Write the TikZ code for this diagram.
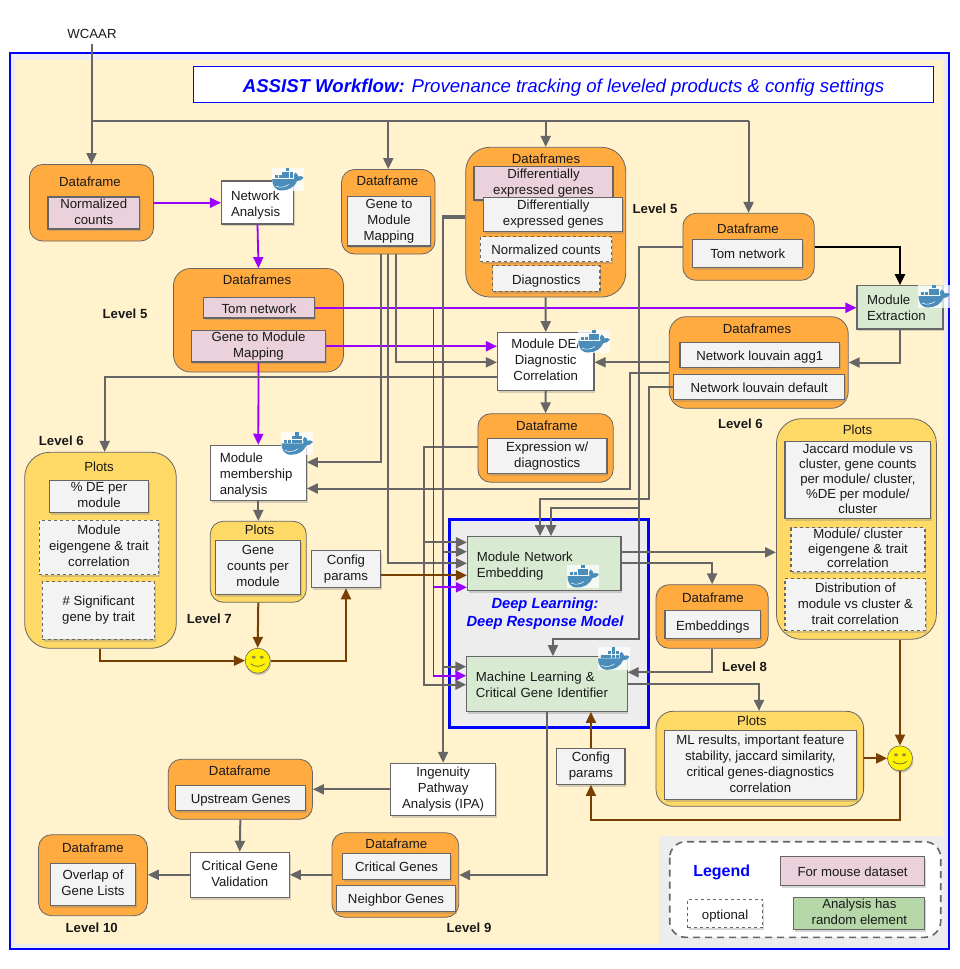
\documentclass[tikz,border=0pt]{standalone}
\usepackage{fontspec}
\setmainfont{Liberation Sans}
\usetikzlibrary{arrows.meta,shadows}
\definecolor{lineg}{HTML}{666666}
\definecolor{purp}{HTML}{9900FF}
\definecolor{brwn}{HTML}{783F04}
\definecolor{orng}{HTML}{FFAB40}
\definecolor{ylow}{HTML}{FFD966}
\definecolor{pnk}{HTML}{EAD1DC}
\definecolor{gry}{HTML}{F3F3F3}
\definecolor{grn}{HTML}{D9EAD3}
\definecolor{dgrn}{HTML}{B6D7A8}
\definecolor{crm}{HTML}{FFF2CC}
\definecolor{whl}{HTML}{4A8DBA}
\tikzset{
 every node/.style={font=\fontsize{13.2}{16}\selectfont,align=center,inner sep=0pt,text=black!90,
  execute at begin node={\rule{0pt}{13.8pt}},execute at end node={\rule[-2.8pt]{0pt}{2.8pt}}},
 spot/.style args={#1,#2,#3,#4}{at={({(#1+#3)/2},{(#2+#4)/2})},minimum width={#3-#1},minimum height={#4-#2}},
 shbox/.style={draw=lineg,line width=1.1pt,drop shadow={shadow xshift=1.2pt,shadow yshift=-2.2pt,opacity=.32}},
 greybox/.style={shbox,fill=gry},
 whitebox/.style={shbox,fill=white},
 pinkbox/.style={shbox,fill=pnk},
 greenbox/.style={shbox,fill=grn},
 dashbox/.style={shbox,fill=gry,dashed},
 dfgroup/.style={draw=lineg,line width=.8pt,fill=orng,rounded corners=#1},
 dfgroup/.default=13pt,
 plotgroup/.style={draw=lineg,line width=.8pt,fill=ylow,rounded corners=#1},
 plotgroup/.default=13pt,
 lvl/.style={font=\fontsize{13.2}{16}\selectfont\bfseries},
 gline/.style={draw=lineg,line width=2pt},
 garrow/.style={gline,-{Triangle[length=11pt,width=10pt]}},
 parrow/.style={draw=purp,line width=1.8pt,-{Triangle[length=11pt,width=10pt]}},
 barrow/.style={draw=brwn,line width=2pt,-{Triangle[length=11pt,width=10pt]}},
 blkarrow/.style={draw=black,line width=2.2pt,-{Triangle[length=11pt,width=10pt]}},
}
\newcommand{\whale}[2]{
 \begin{scope}[shift={(#1,#2)}]
 \fill[white,opacity=.75] (0,0) rectangle (32,22.7);
 \foreach \cx in {3.2,6.9,10.6,14.3,18} \fill[whl] (\cx,7.2) rectangle ++(3.2,3.2);
 \foreach \cx in {10.6,14.3,18} \fill[whl] (\cx,3.6) rectangle ++(3.2,3.2);
 \fill[whl] (14.3,0) rectangle ++(3.2,3.2);
 \fill[whl] (.5,11) -- (22.5,11) .. controls (21.5,8) and (22,6) .. (23.5,4.5) .. controls (25.5,5.5) and (26.5,7) .. (26.5,8.5)
  .. controls (28,7.5) and (30.5,8) .. (32,9.5) .. controls (30.5,12) and (28,13) .. (25.5,13)
  .. controls (23,19) and (17,22.5) .. (10,22.5) .. controls (3,22.5) and (.5,17) .. (.5,11) -- cycle;
 \draw[white,line width=.5pt] (4,18) .. controls (8,20) and (13,19.5) .. (17,16.5);
 \end{scope}
}
\newcommand{\smiley}[3]{
 \node[circle,minimum size=25pt,draw=lineg,line width=.6pt,fill=yellow,drop shadow={shadow xshift=1pt,shadow yshift=-2pt,opacity=.4}] (#1) at (#2,#3) {};
 \begin{scope}[shift={(#2,#3)}]
 \fill[black!50!yellow] (-4,-3.5) ellipse (2pt and 1.5pt) (4,-3.5) ellipse (2pt and 1.5pt);
 \draw[black!60!yellow,line width=.8pt] (-7,3) .. controls (-3,6.5) and (3,6.5) .. (7,3);
 \end{scope}
}

\begin{document}
\begin{tikzpicture}[x=1pt,y=-1pt]
\useasboundingbox (0,0) rectangle (959,969);
\fill[white] (0,0) rectangle (959,969);
\draw[blue,line width=2pt,fill=black!7] (10,53) rectangle (949,949);
\fill[crm] (16,60) rectangle (943,944);
\fill[black!7] (659,836) rectangle (945,945);
\draw[blue,line width=3pt,fill=black!7] (449,519) rectangle (648,727.7);

\node[draw=blue,line width=1pt,fill=white,spot={193.5,66.5,933.5,102},text=blue,text height=21pt,text depth=4pt,font=\fontsize{18.6}{22}\selectfont\itshape] (title)
 {\textbf{ASSIST Workflow:} Provenance tracking of leveled products \& config settings};
\node[outer sep=3pt] (wcaar) at (92,33) {WCAAR};

% groups
\node[dfgroup,spot={29.5,164.5,153.5,241}] (dfNorm) {};
\node at (90,181) (tNorm) {Dataframe};
\node[pinkbox,spot={48,197,139.5,229}] (normCounts) {Normalized\\counts};

\node[dfgroup=17pt,spot={173.5,268.5,343.5,372}] (dfTomG) {};
\node at (257,279) (tTomG) {Dataframes};
\node[pinkbox,spot={203.5,297.5,314.5,318}] (tomNet) {Tom network};
\node[pinkbox,spot={191.5,330.5,325.5,362}] (gmMap) {Gene to Module\\Mapping};

\node[dfgroup,spot={341.5,169.5,435,254}] (dfG2m) {};
\node at (387.5,180) (tG2m) {Dataframe};
\node[greybox,spot={347.5,196.5,430.5,246}] (g2mBox) {Gene to\\Module\\Mapping};

\node[dfgroup=24pt,spot={465.7,147.3,625.7,297}] (dfDe) {};
\node at (546,158) (tDe) {Dataframes};
\node[pinkbox,spot={474,166.7,613,200}] (dePink) {Differentially\\expressed genes};
\node[greybox,spot={483.6,197.7,622.9,231.3}] (deGrey) {Differentially\\expressed genes};
\node[dashbox,spot={480.4,236.7,611.8,261.7}] (deNorm) {Normalized counts};
\node[dashbox,spot={492.5,265.7,600,291.3}] (deDiag) {Diagnostics};

\node[dfgroup,spot={682.9,213.3,814.3,280.3}] (dfTom) {};
\node at (748,228) (tTom) {Dataframe};
\node[greybox,spot={692.9,239.3,802.5,267.3}] (tomBox) {Tom network};

\node[dfgroup=17pt,spot={669.3,316.7,848.2,408.3}] (dfLou) {};
\node at (757,328) (tLou) {Dataframes};
\node[greybox,spot={680,342.3,839.6,367.3}] (louAgg) {Network louvain agg1};
\node[greybox,spot={673.9,374.3,844.6,399.3}] (louDef) {Network louvain default};

\node[dfgroup,spot={477.9,413.7,613.2,482.3}] (dfExpr) {};
\node at (547,425) (tExpr) {Dataframe};
\node[greybox,spot={487.5,438.3,607,473.7}] (exprBox) {Expression w/\\diagnostics};

\node[plotgroup=25pt,spot={24.7,452.3,176.3,648.3}] (plotsDe) {};
\node at (99,466) (tPlotsDe) {Plots};
\node[greybox,spot={49.3,480.3,148.7,512.7}] (deMod) {\% DE per\\module};
\node[dashbox,spot={39.3,520.3,158.7,574.7}] (eigen) {Module\\eigengene \& trait\\correlation};
\node[dashbox,spot={42.3,581.7,154.7,639.3}] (signif) {\# Significant\\gene by trait};

\node[plotgroup,spot={210.3,521.3,306.3,602.3}] (plotsGene) {};
\node at (259.5,529) (tPlotsGene) {Plots};
\node[greybox,spot={215.3,540.3,300.7,594.7}] (geneCnt) {Gene\\counts per\\module};

\node[plotgroup=25pt,spot={776.4,418.7,936.4,639.3}] (plotsJac) {};
\node at (857.5,429) (tPlotsJac) {Plots};
\node[greybox,spot={785,441.7,930.7,518.3},font=\fontsize{13.2}{15}\selectfont] (jacBox) {Jaccard module vs\\cluster, gene counts\\per module/ cluster,\\\%DE per module/\\cluster};
\node[dashbox,spot={791,527.7,925,571.7},font=\fontsize{13.2}{14.6}\selectfont] (eigenCl) {Module/ cluster\\eigengene \& trait\\correlation};
\node[dashbox,spot={785,578.7,925.7,630.7}] (distBox) {Distribution of\\module vs cluster \&\\trait correlation};

\node[dfgroup,spot={656,584.7,768.2,648.3}] (dfEmb) {};
\node at (713,596.7) (tEmb) {Dataframe};
\node[greybox,spot={665,610.7,760.4,638.3}] (embBox) {Embeddings};

\node[plotgroup=17pt,spot={656,711.3,863.6,806.3}] (plotsMl) {};
\node at (751.8,719.7) (tPlotsMl) {Plots};
\node[greybox,spot={664.3,730.7,856.4,799.3}] (mlRes) {ML results, important feature\\stability, jaccard similarity,\\critical genes-diagnostics\\correlation};

\node[dfgroup,spot={168.2,759.3,312.5,819.3}] (dfUp) {};
\node at (239.8,770.3) (tUp) {Dataframe};
\node[greybox,spot={175.5,785.3,305.8,810.3}] (upBox) {Upstream Genes};

\node[dfgroup,spot={38.5,834.7,147.4,915.7}] (dfOver) {};
\node at (93,847) (tOver) {Dataframe};
\node[greybox,spot={50.2,863.3,135.8,905.3}] (overBox) {Overlap of\\Gene Lists};

\node[dfgroup,spot={332,832.7,458.7,917.3}] (dfCrit) {};
\node at (396.3,842.7) (tCrit) {Dataframe};
\node[greybox,spot={342.5,853.3,450.8,879.3}] (critBox) {Critical Genes};
\node[greybox,spot={336.4,885.3,455.7,911.3}] (neighBox) {Neighbor Genes};

% steps
\node[whitebox,text width=53pt,align=left,spot={221.5,181,293.5,224}] (netAna) {Network\\Analysis};
\node[whitebox,spot={497.5,332.7,594,390.3}] (modDe) {Module DE/\\Diagnostic\\Correlation};
\node[whitebox,text width=77pt,align=left,spot={210.3,445.3,306.3,500.3}] (modMem) {Module\\membership\\analysis};
\node[greenbox,text width=66pt,align=left,spot={857,285.7,943,329}] (modExt) {Module\\Extraction};
\node[greenbox,text width=135pt,align=left,spot={467.5,536.7,621,590.3}] (mne) {Module Network\\Embedding};
\node[greenbox,text width=142pt,align=left,spot={466.8,656.7,627.1,711.3}] (mlBox) {Machine Learning \&\\Critical Gene Identifier};
\node[greybox,spot={311.3,550.3,380.7,587.7}] (cfgA) {Config\\params};
\node[greybox,spot={556.8,748.3,625,784.3}] (cfgB) {Config\\params};
\node[whitebox,spot={390.8,763.3,495.4,815.3}] (ingen) {Ingenuity\\Pathway\\Analysis (IPA)};
\node[whitebox,spot={190.2,852.3,289.3,897.3}] (valid) {Critical Gene\\Validation};
\smiley{smileA}{257.7}{660.7}
\smiley{smileB}{900}{758.3}

\node[text=blue,font=\fontsize{14.7}{18}\selectfont\bfseries\itshape] (deepTxt) at (545,614) {Deep Learning:\\Deep Response Model};
\node[lvl] (lvlA) at (125,313) {Level 5};
\node[lvl] (lvlB) at (655,208) {Level 5};
\node[lvl] (lvlC) at (61.3,439.5) {Level 6};
\node[lvl] (lvlD) at (740.4,423) {Level 6};
\node[lvl] (lvlE) at (209.3,617.5) {Level 7};
\node[lvl] (lvlF) at (744.6,666) {Level 8};
\node[lvl] (lvlG) at (469,927.3) {Level 9};
\node[lvl] (lvlH) at (91.7,927.3) {Level 10};

% legend
\draw[lineg,line width=1.6pt,fill=white,rounded corners=16pt,dash pattern=on 7pt off 5pt] (669.7,841.7) rectangle (940.7,937.3);
\node[text=blue,font=\fontsize{16}{18}\selectfont\bfseries] (legTxt) at (721.7,871) {Legend};
\node[pinkbox,spot={780.4,856.7,924.8,885.3}] (legPink) {For mouse dataset};
\node[shbox,fill=white,dashed,spot={687.5,899.3,762.7,927.7}] (legOpt) {optional};
\node[shbox,fill=dgrn,spot={793.9,897.3,924.8,929.3}] (legRnd) {Analysis has\\random element};

% connectors
\coordinate (topRail) at (91.5,121);
\draw[garrow] (wcaar.south -| dfNorm.north) -- (dfNorm.north);
\draw[gline] (topRail) -- (topRail -| dfTom.north);
\foreach \n in {dfG2m,dfDe,dfTom} \draw[garrow] (topRail -| \n.north) -- (\n.north);

\draw[parrow] (dfNorm.east) -- (netAna.west |- dfNorm.east);
\draw[parrow] (netAna.south) -- (dfTomG.north);
\draw[parrow] (tomNet.east) -- (modExt.west |- tomNet.east);
\draw[parrow] (gmMap.east) -- (modDe.west |- gmMap.east);
\draw[parrow] (gmMap.south) -- (modMem.north);

\draw[garrow] (381,0 |- dfG2m.south) |- (modMem.east |- 0,462.3);
\draw[garrow] (dfG2m.south) |- (mne.west |- 0,563.3);
\draw[garrow] (395.7,0 |- dfG2m.south) |- (modDe.west |- 0,362.3);
\draw[garrow] (modDe.west |- 0,377.3) -| (104.7,0 |- plotsDe.north);
\draw[garrow] (dfLou.west |- 0,362.3) -- (modDe.east |- 0,362.3);
\draw[garrow] (dfLou.west |- 0,373.3) -- (629.6,373.3) |- (modMem.east |- 0,488.5);
\draw[garrow] (louDef.west) -| (648.6,499.3) -| (540,0 |- mne.north);
\draw[garrow] (dfTom.west |- 0,247.3) -| (639.3,639) -| (552.9,0 |- mlBox.north);
\draw[garrow] (639.3,508.3) -| (551,0 |- mne.north);
\draw[blkarrow] (dfTom.east |- 0,247.3) -| (modExt.north);
\draw[garrow] (modExt.south) |- (dfLou.east |- 0,362.5);
\draw[garrow] (dfDe.south) -- (modDe.north);
\draw[garrow] (modDe.south) -- (dfExpr.north);
\draw[garrow] (dfDe.west |- 0,218) -| (ingen.north);
\draw[garrow] (dfDe.west |- 0,215.8) -| (442.6,666.7) -- (mlBox.west |- 0,666.7);
\draw[garrow] (442.6,551.7) -- (mne.west |- 0,551.7);
\draw[garrow] (dfExpr.west |- 0,447.3) -| (424.3,684.7) -- (mlBox.west |- 0,684.7);
\draw[garrow] (424.3,542.3) -- (mne.west |- 0,542.3);
\draw[garrow] (mne.east |- 0,552.3) -- (plotsJac.west |- 0,552.3);
\draw[garrow] (mne.east |- 0,563.3) -| (dfEmb.north);
\draw[garrow] (dfEmb.south) |- (mlBox.east |- 0,672.3);
\draw[garrow] (mlBox.east |- 0,684) -| (759,0 |- plotsMl.north);
\draw[garrow] (546.8,0 |- mlBox.south) |- (dfCrit.east |- 0,875);
\draw[garrow] (modMem.south) -- (plotsGene.north);
\draw[garrow] (ingen.west) -- (dfUp.east |- ingen.west);
\draw[garrow] (dfUp.south) -- (valid.north);
\draw[garrow] (valid.west) -- (dfOver.east |- valid.west);
\draw[garrow] (dfCrit.west |- valid.east) -- (valid.east);

\coordinate (pRail) at (433.5,307.75);
\draw[parrow] (pRail) |- (mlBox.west |- 0,675.7);
\draw[parrow] (433.5,587.3) -- (mne.west |- 0,587.3);

\draw[barrow] (cfgA.east |- 0,575.3) -- (mne.west |- 0,575.3);
\draw[barrow] (cfgB.north) -- (cfgB.north |- mlBox.south);
\draw[barrow] (smileB |- plotsJac.south) -- (smileB.north);
\draw[barrow] (plotsMl.east |- smileB) -- (smileB.west);
\draw[barrow] (smileB.south) -- (smileB |- 0,820.3) -| (cfgB.south);
\draw[barrow] (100,0 |- plotsDe.south) |- (smileA.west);
\draw[barrow] (plotsGene.south) -- (smileA.north);
\draw[barrow] (smileA.east) -| (cfgA.south);

\whale{271.7}{168}
\whale{578}{330}
\whale{918}{285}
\whale{281}{432.3}
\whale{567}{565}
\whale{597.5}{647.3}
\end{tikzpicture}
\end{document}
